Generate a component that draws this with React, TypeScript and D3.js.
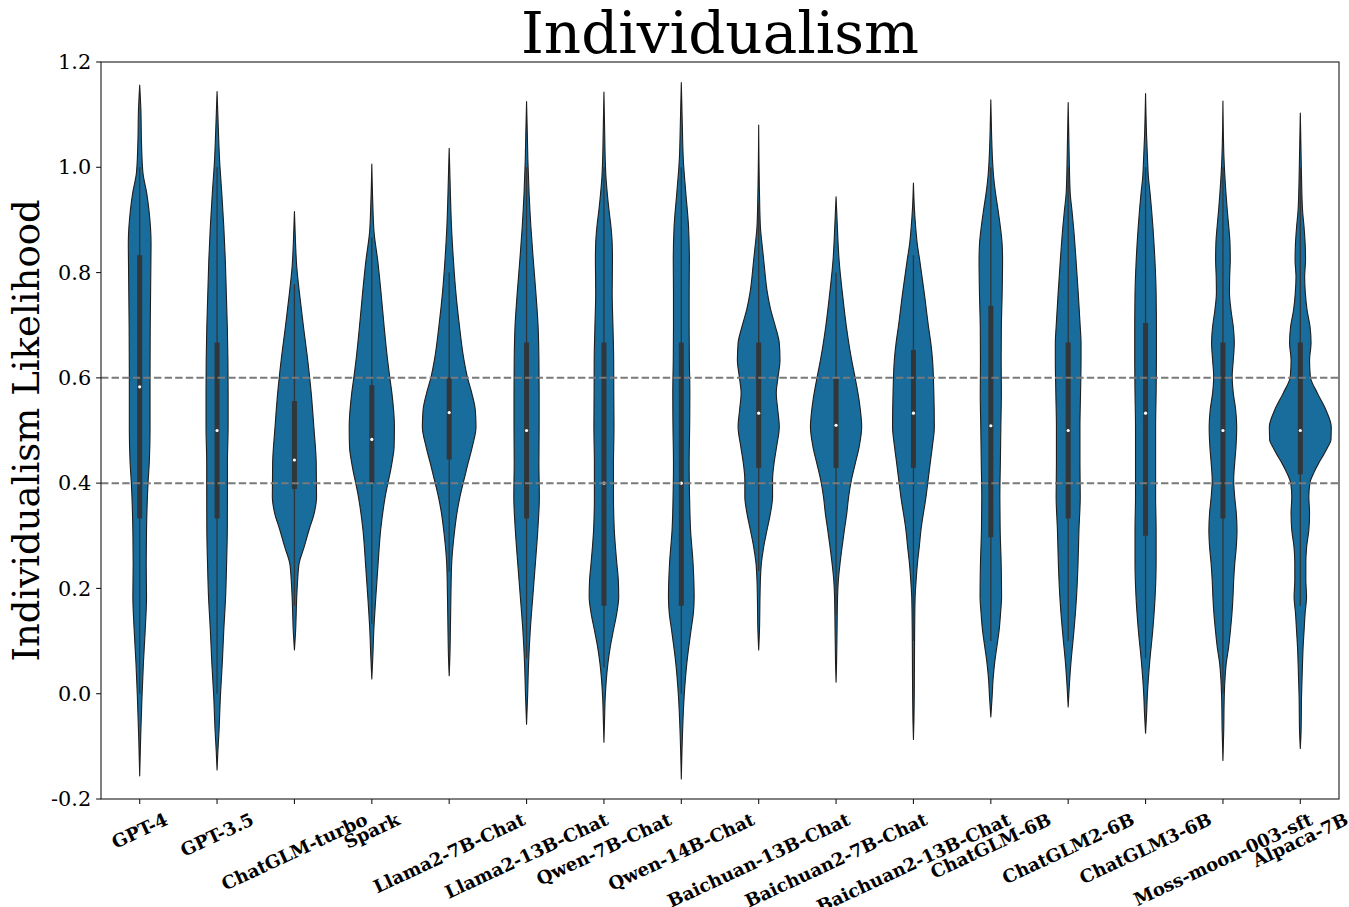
import React, { useMemo } from "react";
import * as d3 from "d3";

// ---------- data ----------
const models = [
  "GPT-4", "GPT-3.5", "ChatGLM-turbo", "Spark", "Llama2-7B-Chat", "Llama2-13B-Chat",
  "Qwen-7B-Chat", "Qwen-14B-Chat", "Baichuan-13B-Chat", "Baichuan2-7B-Chat",
  "Baichuan2-13B-Chat", "ChatGLM-6B", "ChatGLM2-6B", "ChatGLM3-6B",
  "Moss-moon-003-sft", "Alpaca-7B",
];

const yTicks = [-0.2, 0.0, 0.2, 0.4, 0.6, 0.8, 1.0, 1.2];
const yTickLabels = ["-0.2", "0.0", "0.2", "0.4", "0.6", "0.8", "1.0", "1.2"];
const refLines = [0.4, 0.6];

// Kernel density profiles: [value, relative density]
const gpt4Density: [number, number][] = [[1.156,0],[1.109,1.2],[1.046,1.8],[0.99,3.2],[0.951,7],[0.919,9.2],[0.856,11.3],[0.79,11],[0.697,10.5],[0.602,10.3],[0.5,10.3],[0.438,9.5],[0.4,8.3],[0.311,6.8],[0.248,6.5],[0.184,6.8],[0.121,5.5],[0.058,3.7],[-0.006,2.3],[-0.069,1.2],[-0.11,0.6],[-0.156,0]];
const gpt35Density: [number, number][] = [[1.144,0],[1.077,1.2],[1.014,2.5],[0.951,4.7],[0.887,6.7],[0.824,8.2],[0.761,9.2],[0.697,10.2],[0.634,10.8],[0.571,11],[0.507,11],[0.438,10.3],[0.374,10.3],[0.311,10.2],[0.248,9.5],[0.184,8.5],[0.121,6.7],[0.058,5.2],[-0.006,3.3],[-0.069,2],[-0.11,0.8],[-0.145,0]];
const chatglmTurboDensity: [number, number][] = [[0.916,0],[0.86,1],[0.811,2.3],[0.761,5],[0.697,9],[0.634,13.2],[0.571,16.7],[0.507,19.3],[0.438,21.7],[0.374,22],[0.343,19.7],[0.311,14.5],[0.279,9.7],[0.248,4.7],[0.216,3.2],[0.184,2.3],[0.121,1.2],[0.083,0]];
const sparkDensity: [number, number][] = [[1.006,0],[0.93,1],[0.875,2.3],[0.824,5.8],[0.761,9.2],[0.697,12.3],[0.634,15.7],[0.602,17.8],[0.571,20],[0.507,22.5],[0.469,22.2],[0.438,20],[0.374,13.3],[0.311,8.8],[0.248,6.3],[0.184,4],[0.121,2],[0.07,1],[0.028,0]];
const llama7Density: [number, number][] = [[1.036,0],[0.95,1.2],[0.887,2.3],[0.824,4.2],[0.761,6.7],[0.697,10.3],[0.634,14.7],[0.602,18],[0.571,22.5],[0.539,26],[0.507,26.7],[0.469,23],[0.438,18.8],[0.406,14.7],[0.374,10.7],[0.343,7.7],[0.311,5.5],[0.248,2.5],[0.184,1.7],[0.121,1.2],[0.07,0.7],[0.034,0]];
const llama13Density: [number, number][] = [[1.125,0],[1.06,0.8],[1.014,1.3],[0.951,2.5],[0.887,4.3],[0.824,6.7],[0.761,9.3],[0.697,11.5],[0.634,12.3],[0.571,12.5],[0.507,12.5],[0.438,12.3],[0.374,12.7],[0.311,11.2],[0.248,8.8],[0.184,6.2],[0.121,3.7],[0.058,2],[-0.006,1],[-0.058,0]];
const qwen7Density: [number, number][] = [[1.143,0],[1.06,0.8],[1.014,1.3],[0.982,2],[0.951,3.3],[0.919,5],[0.887,7],[0.856,8.2],[0.824,8.5],[0.761,8.2],[0.697,9],[0.634,9.7],[0.571,9.8],[0.507,10],[0.438,9.5],[0.374,9.5],[0.311,10.3],[0.248,12.8],[0.216,14.3],[0.184,14.7],[0.153,12.8],[0.121,9.5],[0.089,6.3],[0.058,4],[-0.006,1.3],[-0.05,0.6],[-0.092,0]];
const qwen14Density: [number, number][] = [[1.161,0],[1.08,1],[1.014,2],[0.951,4.5],[0.887,7.2],[0.824,8],[0.761,7.8],[0.697,7.8],[0.634,8],[0.571,8.5],[0.507,8.3],[0.438,7.8],[0.374,8.2],[0.311,9.2],[0.248,11.7],[0.184,12.8],[0.153,12],[0.121,9.7],[0.058,5.5],[-0.006,2.8],[-0.069,1.3],[-0.12,0.5],[-0.162,0]];
const baichuan13Density: [number, number][] = [[1.08,0],[0.95,0.8],[0.887,1.7],[0.856,3.2],[0.824,5],[0.761,8.7],[0.729,12],[0.697,16.7],[0.666,20.5],[0.634,21.2],[0.602,19.3],[0.571,17.5],[0.539,19],[0.507,20.5],[0.469,17.8],[0.438,15.3],[0.406,13.8],[0.374,13.8],[0.343,11.7],[0.311,8.3],[0.279,5],[0.248,2.7],[0.216,1.7],[0.184,1.3],[0.121,0.8],[0.083,0]];
const baichuan27Density: [number, number][] = [[0.944,0],[0.9,1],[0.856,2],[0.824,3],[0.761,6.3],[0.697,10.3],[0.634,15.5],[0.602,18.8],[0.571,21.8],[0.539,24.2],[0.507,25.5],[0.469,23],[0.438,19.2],[0.406,15.3],[0.374,12.5],[0.343,10.7],[0.311,8.3],[0.279,6],[0.248,4],[0.216,2.3],[0.184,1.5],[0.121,1],[0.058,0.5],[0.022,0]];
const baichuan213Density: [number, number][] = [[0.97,0],[0.92,1],[0.887,2.2],[0.856,3.7],[0.824,6.2],[0.761,10.8],[0.697,15],[0.666,17.3],[0.634,19],[0.571,20.3],[0.507,20.8],[0.469,18.8],[0.438,16.7],[0.374,12.5],[0.311,7.5],[0.279,5.8],[0.248,4],[0.216,2.7],[0.184,1.7],[0.121,1.2],[0.058,1],[-0.006,0.8],[-0.05,0.5],[-0.087,0]];
const chatglm6Density: [number, number][] = [[1.128,0],[1.06,0.8],[1.014,1.7],[0.982,2.8],[0.951,4.7],[0.919,7.2],[0.887,9.5],[0.856,11.2],[0.824,11.7],[0.761,11.3],[0.697,10.5],[0.634,10.3],[0.571,10.5],[0.507,10],[0.438,9.5],[0.374,9],[0.311,9.3],[0.248,10.3],[0.184,10.7],[0.153,9.7],[0.121,8.3],[0.089,6],[0.058,3.8],[0.026,2.2],[-0.006,1.3],[-0.044,0]];
const chatglm26Density: [number, number][] = [[1.123,0],[1.02,1],[0.951,2],[0.919,3.7],[0.887,5.3],[0.824,7.8],[0.761,10],[0.697,12],[0.666,12.8],[0.634,12.8],[0.571,12.3],[0.507,11.7],[0.438,11.7],[0.374,12],[0.311,10.7],[0.248,9.8],[0.184,8.3],[0.121,5.8],[0.089,4.2],[0.058,2.7],[0.026,1.5],[-0.025,0]];
const chatglm36Density: [number, number][] = [[1.14,0],[1.06,1],[1.014,2],[0.982,2.8],[0.951,4.5],[0.919,6],[0.887,7.3],[0.824,9.3],[0.761,10.5],[0.697,10.8],[0.634,10.8],[0.571,10.5],[0.507,10],[0.438,10],[0.374,10],[0.311,10.5],[0.248,10.5],[0.184,9.5],[0.121,7.2],[0.058,4],[0.026,2.7],[-0.006,1.7],[-0.04,1],[-0.075,0]];
const mossDensity: [number, number][] = [[1.126,0],[1.02,1],[0.951,3],[0.919,4.3],[0.887,5.8],[0.856,7],[0.824,7.3],[0.792,6.7],[0.761,6.5],[0.729,8],[0.697,10.3],[0.666,11.3],[0.634,10.3],[0.602,9.2],[0.571,10.3],[0.539,12.7],[0.507,13.7],[0.469,13],[0.438,11.7],[0.406,10.7],[0.374,11.7],[0.343,13.3],[0.311,14],[0.279,13.3],[0.248,11.8],[0.216,10.7],[0.184,10],[0.153,9],[0.121,7.5],[0.089,5.7],[0.058,3.3],[0.026,2],[-0.006,1.3],[-0.069,0.8],[-0.127,0]];
const alpacaDensity: [number, number][] = [[1.103,0],[1.0,1],[0.919,2.2],[0.887,3.7],[0.856,4.8],[0.824,5.2],[0.792,4.3],[0.761,5],[0.729,6.7],[0.697,9.7],[0.666,10.7],[0.634,9.2],[0.602,10],[0.571,17],[0.539,25.5],[0.507,30.8],[0.482,30.5],[0.469,27.5],[0.45,22],[0.438,18.3],[0.419,13.3],[0.4,9.5],[0.374,8.5],[0.343,9.2],[0.311,8.5],[0.279,6.3],[0.248,5.5],[0.216,5.5],[0.184,6.2],[0.153,4.8],[0.121,3.8],[0.089,2.8],[0.058,2.2],[-0.006,1.2],[-0.069,0.8],[-0.104,0]];

const densities = [
  gpt4Density, gpt35Density, chatglmTurboDensity, sparkDensity, llama7Density, llama13Density,
  qwen7Density, qwen14Density, baichuan13Density, baichuan27Density, baichuan213Density,
  chatglm6Density, chatglm26Density, chatglm36Density, mossDensity, alpacaDensity,
];

const q1s =          [0.333, 0.333, 0.389, 0.400, 0.445, 0.333, 0.167, 0.167, 0.429, 0.429, 0.429, 0.297, 0.333, 0.300, 0.333, 0.417];
const medians =      [0.583, 0.500, 0.444, 0.483, 0.534, 0.500, 0.400, 0.400, 0.533, 0.510, 0.533, 0.509, 0.500, 0.533, 0.500, 0.500];
const q3s =          [0.833, 0.667, 0.556, 0.586, 0.600, 0.667, 0.667, 0.667, 0.667, 0.600, 0.653, 0.737, 0.667, 0.704, 0.667, 0.667];
const whiskerLows =  [0.000, 0.000, 0.167, 0.133, 0.232, 0.067, 0.050, 0.000, 0.233, 0.150, 0.100, 0.100, 0.100, 0.067, 0.000, 0.167];
const whiskerHighs = [1.000, 1.000, 0.778, 0.867, 0.800, 1.000, 1.000, 1.000, 0.933, 0.800, 0.833, 1.000, 1.000, 1.000, 1.000, 1.000];

const title = "Individualism";
const yLabel = "Individualism Likelihood";

// ---------- layout ----------
const W = 1349;
const H = 907;
const M = { left: 101, right: 1339, top: 62, bottom: 799 };
const FILL = "#186d9d";
const EDGE = "#1e1e1e";
const INNER = "#31363a";
const SERIF = "'DejaVu Serif', serif";
const ROT = 25;

function measure(text: string, font: string): number {
  const ctx = document.createElement("canvas").getContext("2d");
  if (!ctx) return text.length * 10;
  ctx.font = font;
  return ctx.measureText(text).width;
}

export default function App() {
  const x = useMemo(
    () => d3.scaleBand<string>().domain(models).range([M.left, M.right]).paddingInner(0).paddingOuter(0),
    []
  );
  const y = useMemo(() => d3.scaleLinear().domain([-0.2, 1.2]).range([M.bottom, M.top]), []);
  const maxDensity = d3.max(densities, (d) => d3.max(d, (p) => p[1]) as number) as number;
  const w = d3.scaleLinear().domain([0, maxDensity]).range([0, x.bandwidth() * 0.4]);

  const xFontSize = 18;
  const xFont = `bold ${xFontSize}px 'DejaVu Serif'`;
  const theta = (ROT * Math.PI) / 180;
  const lineH = xFontSize * 1.164;
  const labelTop = M.bottom + 4.9 + 4.9;

  return (
    <svg
      width={W}
      height={H}
      style={{ position: "absolute", left: 0, top: 0, background: "#fff" }}
      fontFamily={SERIF}
    >
      <rect x={0} y={0} width={W} height={H} fill="#fff" />
      {/* violins */}
      {models.map((m, i) => {
        const cx = (x(m) as number) + x.bandwidth() / 2;
        const area = d3
          .area<[number, number]>()
          .y((d) => y(d[0]))
          .x0((d) => cx - w(d[1]))
          .x1((d) => cx + w(d[1]))
          .curve(d3.curveMonotoneY);
        return (
          <g key={m}>
            <path d={area(densities[i]) || ""} fill={FILL} stroke={EDGE} strokeWidth={1.1} strokeLinejoin="round" />
            <line x1={cx} x2={cx} y1={y(whiskerLows[i])} y2={y(whiskerHighs[i])} stroke={INNER} strokeWidth={1.3} />
            <line x1={cx} x2={cx} y1={y(q1s[i])} y2={y(q3s[i])} stroke={INNER} strokeWidth={5} />
            <circle cx={cx} cy={y(medians[i])} r={1.6} fill="#fff" />
          </g>
        );
      })}
      {/* reference lines */}
      {refLines.map((v) => (
        <line
          key={v}
          x1={M.left}
          x2={M.right}
          y1={y(v)}
          y2={y(v)}
          stroke="#7a7a7a"
          strokeWidth={2}
          strokeDasharray="7.4 3.2"
        />
      ))}
      {/* frame */}
      <rect
        x={M.left}
        y={M.top}
        width={M.right - M.left}
        height={M.bottom - M.top}
        fill="none"
        stroke="#1a1a1a"
        strokeWidth={1.1}
      />
      {/* y axis ticks */}
      {yTicks.map((t, i) => (
        <g key={t}>
          <line x1={M.left - 4.9} x2={M.left} y1={y(t)} y2={y(t)} stroke="#1a1a1a" strokeWidth={1.1} />
          <text
            x={M.left - 4.9 - 4.9}
            y={y(t)}
            dy="0.346em"
            textAnchor="end"
            fontSize={20.8}
            fill="#000"
          >
            {yTickLabels[i]}
          </text>
        </g>
      ))}
      {/* x axis ticks */}
      {models.map((m) => {
        const cx = (x(m) as number) + x.bandwidth() / 2;
        const tw = measure(m, xFont);
        const bboxH = tw * Math.sin(theta) + lineH * Math.cos(theta);
        const cy = labelTop + bboxH / 2;
        return (
          <g key={m}>
            <line x1={cx} x2={cx} y1={M.bottom} y2={M.bottom + 4.9} stroke="#1a1a1a" strokeWidth={1.1} />
            <text
              transform={`translate(${cx},${cy}) rotate(${-ROT})`}
              dy="0.346em"
              textAnchor="middle"
              fontSize={xFontSize}
              fontWeight="bold"
              fill="#000"
            >
              {m}
            </text>
          </g>
        );
      })}
      {/* title */}
      <text x={(M.left + M.right) / 2} y={53} textAnchor="middle" fontSize={58} fill="#000">
        {title}
      </text>
      {/* y label */}
      <text
        transform={`translate(39,${(M.top + M.bottom) / 2}) rotate(-90)`}
        textAnchor="middle"
        fontSize={37}
        fill="#000"
      >
        {yLabel}
      </text>
    </svg>
  );
}
